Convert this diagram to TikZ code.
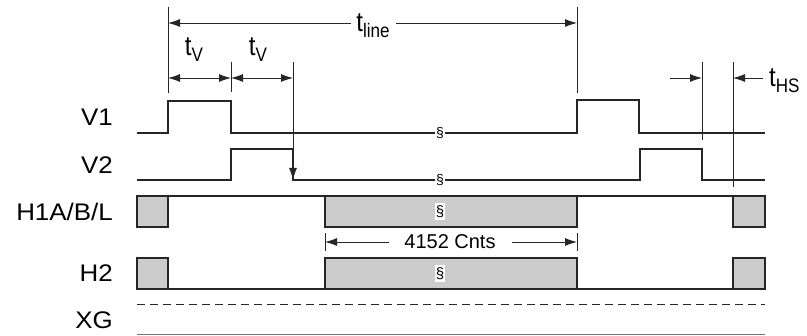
\documentclass[tikz,border=0pt]{standalone}
\usepackage{fontspec}
\setmainfont{Liberation Sans}
\usepackage{xcolor}
\colorlet{BARCOLOR}{black!20}
\colorlet{LINECOLOR}{black!85}
\usetikzlibrary{arrows.meta,positioning,calc}
\tikzset{
  sig-style/.style = {
    draw=LINECOLOR, line width=1.6pt, line join=miter
  },
  bar-style/.style = {
    sig-style, fill=BARCOLOR
  },
  dim-style/.style = {
    draw=LINECOLOR, line width=0.9pt
  },
  tip-style/.style = {
    -{Latex[length=12pt,width=8pt]}
  },
  both-style/.style = {
    {Latex[length=12pt,width=8pt]}-{Latex[length=12pt,width=8pt]}
  },
  lbl-style/.style = {
    anchor=east, inner sep=0pt,
    font=\fontsize{24}{26}\selectfont
  },
  txt-style/.style = {
    inner sep=0pt, font=\fontsize{20}{22}\selectfont
  },
  brk-style/.style = {
    fill=white, inner xsep=1pt, inner ysep=2pt,
    font=\fontsize{#1}{#1}\selectfont
  },
  brk-style/.default = 14
}
\newcommand{\tsub}[1]{\scalebox{1}[1.15]{\fontsize{24}{24}\selectfont t}\raisebox{-6pt}{\scalebox{1}[1.15]{\fontsize{17}{17}\selectfont #1}}}
\newcommand{\signame}[1]{\scalebox{1.08}[1]{#1}}

\begin{document}
\begin{tikzpicture}[x=1pt,y=-1pt]
    \useasboundingbox (0,0) rectangle (807,336);

    %%% signal names
    \node[lbl-style] (v1) at (113,117) {\signame{V1}};
    \node[lbl-style] (v2) at (113,165) {\signame{V2}};
    \node[lbl-style] (h1) at (113,212) {\signame{H1A/B/L}};
    \node[lbl-style] (h2) at (113,273) {\signame{H2}};
    \node[lbl-style] (xg) at (113,320) {\signame{XG}};

    %%% V1
    \draw[sig-style] (137,133) -- (168,133) -- (168,101) -- (231,101) -- (231,133)
      -- (577,133) -- (577,100) -- (639,100) -- (639,133) -- (765,133);
    %%% V2
    \draw[sig-style] (137,180) -- (231,180) -- (231,149) -- (293,149) -- (293,180)
      -- (640,180) -- (640,149) -- (702,149) -- (702,180) -- (765,180);

    %%% H1A/B/L
    \draw[sig-style] (137,196) -- (765,196);
    \draw[bar-style] (137,196) rectangle (168,227);
    \draw[bar-style] (325,196) rectangle (577,227);
    \draw[bar-style] (733,196) rectangle (765,227);

    %%% H2
    \draw[sig-style] (137,289) -- (765,289);
    \draw[bar-style] (137,258) rectangle (168,289);
    \draw[bar-style] (325,258) rectangle (577,289);
    \draw[bar-style] (733,258) rectangle (765,289);

    %%% XG
    \draw[dim-style, dash pattern=on 8pt off 5pt] (137,304) -- (765,304);
    \draw[dim-style, draw=black!55, line width=1.2pt] (137,334.5) -- (765,334.5);

    %%% breaks
    \node[brk-style] (bv1) at (440,133) {\S};
    \node[brk-style] (bv2) at (440,180) {\S};
    \node[brk-style=15] (bh1) at (440,211.5) {\S};
    \node[brk-style=15] (bh2) at (440,273.5) {\S};

    %%% t_line
    \coordinate (la) at (168,7);
    \coordinate (lb) at (577,7);
    \draw[dim-style] (la) -- ++(0,86);
    \draw[dim-style] (lb) -- ++(0,86);
    \node[txt-style] (tl) at (373,26) {\tsub{line}};
    \coordinate (tla) at (168,23);
    \coordinate (tlb) at (577,23);
    \draw[dim-style,tip-style] ([xshift=-5pt]tl.west |- tla) -- (tla);
    \draw[dim-style,tip-style] ([xshift=6pt]tl.east |- tlb) -- (tlb);

    %%% t_V
    \coordinate (va) at (168,78);
    \coordinate (vb) at (231,78);
    \coordinate (vc) at (293,78);
    \draw[dim-style] (231,62) -- (231,92);
    \draw[dim-style,tip-style] (293,62) -- (293,180);
    \draw[dim-style,both-style] (va) -- (vb);
    \draw[dim-style,both-style] (vb) -- (vc);
    \node[txt-style] (tv1) at (194,50) {\tsub{V}};
    \node[txt-style] (tv2) at (258,50) {\tsub{V}};

    %%% t_HS
    \coordinate (ha) at (702,78);
    \coordinate (hb) at (733,78);
    \draw[dim-style] (702,62) -- (702,140);
    \draw[dim-style] (733,62) -- (733,187);
    \node[txt-style,anchor=west] (ths) at (769,81) {\tsub{HS}};
    \draw[dim-style,tip-style] (670,78) -- (ha);
    \draw[dim-style,tip-style] ([xshift=-6pt]ths.west |- hb) -- (hb);

    %%% 4152 Cnts
    \coordinate (ca) at (325,242);
    \coordinate (cb) at (577,242);
    \draw[dim-style] (325,233) -- (325,251);
    \draw[dim-style] (577,233) -- (577,251);
    \node[txt-style] (cn) at (450,242) {4152 Cnts};
    \draw[dim-style,tip-style] ([xshift=-15pt]cn.west) -- (ca);
    \draw[dim-style,tip-style] ([xshift=16pt]cn.east) -- (cb);
  \end{tikzpicture}
\end{document}
